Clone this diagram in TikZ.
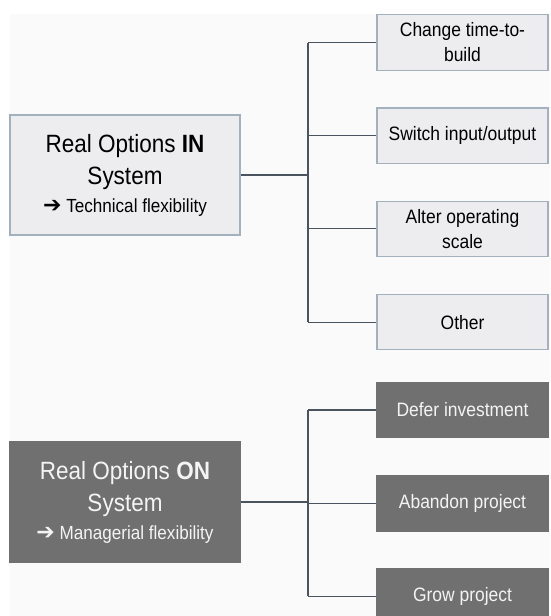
\documentclass[tikz,border=0pt]{standalone}
\usepackage{fontspec}
\setmainfont[FakeStretch=0.9]{Liberation Sans}
\newfontfamily\flechafont{DejaVu Sans}
\usetikzlibrary{positioning}
\definecolor{fondoPagina}{HTML}{FAFAFA}
\definecolor{fondoClaro}{HTML}{EDEDF0}
\definecolor{bordeClaro}{HTML}{A3B1BE}
\definecolor{fondoOscuro}{HTML}{707070}
\definecolor{textoOscuro}{HTML}{F4F4F4}
\definecolor{lineaRama}{HTML}{4A545E}

\begin{document}
\begin{tikzpicture}[
  x=1pt, y=1pt,
  font=\fontsize{19.4}{25}\selectfont,
  raiz/.style={draw=bordeClaro, fill=fondoClaro, line width=1.2pt,
               minimum width=230pt, minimum height=120pt,
               align=center, inner sep=0pt,
               font=\fontsize{25}{32}\selectfont},
  raizOscura/.style={raiz, draw=fondoOscuro, fill=fondoOscuro, text=textoOscuro},
  opcion/.style={draw=bordeClaro, fill=fondoClaro, line width=1.2pt,
                 minimum width=171pt, minimum height=55.5pt,
                 align=center, inner sep=0pt},
  opcionOscura/.style={opcion, draw=fondoOscuro, fill=fondoOscuro, text=textoOscuro},
  rama/.style={draw=lineaRama, line width=1.1pt}
]
\useasboundingbox (0,0) rectangle (550,-616);
\clip (0,0) rectangle (550,-616);
\fill[fondoPagina] (10,-14) rectangle (550,-616);

% opciones IN
\node[raiz] (inbox) at (125,-175) {Real Options \textbf{IN}\\ System\\[-4pt]
  {\fontsize{19}{24}\selectfont{\flechafont\fontsize{22}{24}\selectfont ➔} Technical flexibility}};
\node[opcion] (r1) at (462.5,-42.5) {Change time-to-\\ build};
\node[opcion, below=36.5pt of r1] (r2) {Switch input/output};
\node[opcion, below=36.5pt of r2] (r3) {Alter operating\\ scale};
\node[opcion, below=36.5pt of r3] (r4) {Other};

\coordinate (jin) at (308,-175);
\draw[rama] (inbox.east) -- (jin);
\draw[rama] (jin |- r1.west) -- (jin |- r4.west);
\draw[rama] (jin |- r1.west) -- (r1.west);
\draw[rama] (jin |- r2.west) -- (r2.west);
\draw[rama] (jin |- r3.west) -- (r3.west);
\draw[rama] (jin |- r4.west) -- (r4.west);

% opciones ON
\node[raizOscura] (onbox) at (125,-502) {Real Options \textbf{ON}\\ System\\[-4pt]
  {\fontsize{19}{24}\selectfont{\flechafont\fontsize{22}{24}\selectfont ➔} Managerial flexibility}};
\node[opcionOscura] (d1) at (462.5,-410) {Defer investment};
\node[opcionOscura, below=36.5pt of d1] (d2) {Abandon project};
\node[opcionOscura, below=36.5pt of d2] (d3) {Grow project};

\coordinate (jon) at (308,-502);
\draw[rama] (onbox.east) -- (jon);
\draw[rama] (jon |- d1.west) -- (jon |- d3.west);
\draw[rama] (jon |- d1.west) -- (d1.west);
\draw[rama] (jon |- d2.west) -- (d2.west);
\draw[rama] (jon |- d3.west) -- (d3.west);

\end{tikzpicture}
\end{document}
